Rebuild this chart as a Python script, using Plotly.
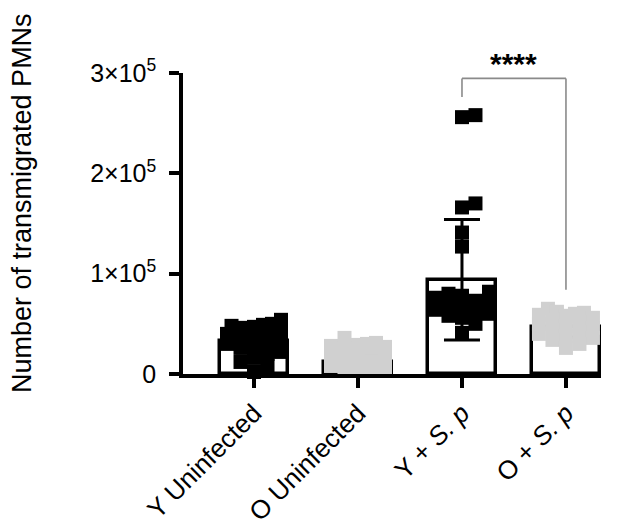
import plotly.graph_objects as go

# ---------------- data ----------------
categories = ["Y Uninfected", "O Uninfected", "Y + <i>S. p</i>", "O + <i>S. p</i>"]
bar_means = [33000, 12000, 94000, 47000]
bar_sd = [15000, 6500, 60000, 10000]

y_uninf = [54000, 50000, 49000, 48000, 47000, 46000, 44000, 42000, 40000, 38000, 36000,
           34000, 32000, 30000, 28000, 26000, 22000, 20000, 16000, 12000, 8000, 2000]
o_uninf = [36000, 31000, 30000, 29000, 28000, 27000, 25000, 22000, 20000, 18000,
           16000, 14000, 12000, 10000, 9000, 8000, 7000, 6000, 5000, 5000]
y_sp = [258000, 256000, 170000, 166000, 141000, 127000, 82000, 80000, 78000, 76000, 73000,
        70000, 68000, 66000, 64000, 62000, 60000, 58000, 56000, 50000, 41000]
o_sp = [65000, 62000, 61000, 60000, 59000, 58000, 56000, 54000, 52000, 50000,
        48000, 46000, 44000, 42000, 40000, 38000, 36000, 34000, 30000, 26000]

groups = [y_uninf, o_uninf, y_sp, o_sp]
group_colors = ["#000000", "#d0d0d0", "#000000", "#d0d0d0"]

ytick_vals = [0, 100000, 200000, 300000]
ytick_text = ["0", "1×10<sup>5</sup>", "2×10<sup>5</sup>", "3×10<sup>5</sup>"]
sig_text = "****"

# ---------------- layout geometry ----------------
W, H = 635, 529
ML, MR, MT, MB = 183, 34, 73, 155
plot_w = W - ML - MR
plot_h = H - MT - MB
x_range = [-0.683, 3.337]
y_range = [0, 300000]
px_per_x = plot_w / (x_range[1] - x_range[0])
px_per_y = plot_h / (y_range[1] - y_range[0])
MS = 14


def swarm(values, max_px=27, step=4.5, min_gap=10.5):
    """Deterministic beeswarm offsets (in data x units)."""
    order = sorted(range(len(values)), key=lambda i: values[i])
    placed = []
    offs = [0.0] * len(values)
    cands = [0.0]
    k = 1
    while k * step <= max_px:
        cands += [k * step, -k * step]
        k += 1
    for i in order:
        yp = values[i] * px_per_y
        best, best_d = None, -1
        for c in cands:
            d = min([max(abs(c - px), abs(yp - py)) for px, py in placed] or [1e9])
            if d >= min_gap:
                best = c
                break
            if d > best_d:
                best_d, best = d, c
        placed.append((best, yp))
        offs[i] = best / px_per_x
    return offs


fig = go.Figure()
fig.add_trace(go.Bar(
    x=list(range(len(categories))), y=bar_means, width=68 / px_per_x,
    marker=dict(color="white", line=dict(color="black", width=3.5)),
    error_y=dict(type="data", array=bar_sd, visible=True, color="black",
                 thickness=3, width=18),
    showlegend=False, hoverinfo="skip",
))

for gi, vals in enumerate(groups):
    offs = swarm(vals)
    fig.add_trace(go.Scatter(
        x=[gi + o for o in offs], y=vals, mode="markers",
        marker=dict(symbol="square", size=MS, color=group_colors[gi], line=dict(width=0)),
        showlegend=False, cliponaxis=False,
    ))

# significance bracket between groups 2 and 3
top = y_range[1] * 0.982
left_bot = max(y_sp) + 18000
right_bot = max(o_sp) + 19000
br = dict(color="#8a8a8a", width=1.6)
fig.add_shape(type="line", x0=2, x1=2, y0=left_bot, y1=top, line=br)
fig.add_shape(type="line", x0=2, x1=3, y0=top, y1=top, line=br)
fig.add_shape(type="line", x0=3, x1=3, y0=right_bot, y1=top, line=br)
fig.add_annotation(x=2.5, y=top, text="<b>" + sig_text + "</b>", showarrow=False,
                   yanchor="bottom", yshift=-4, font=dict(size=30, color="black"))

fig.add_annotation(xref="paper", yref="paper", x=(22 - ML) / plot_w, y=(H - MB - 203) / plot_h,
                   text="Number of transmigrated PMNs", textangle=-90, showarrow=False,
                   xanchor="center", yanchor="middle", font=dict(size=27, color="black"))

fig.update_layout(
    width=W, height=H, margin=dict(l=ML, r=MR, t=MT, b=MB, autoexpand=False),
    paper_bgcolor="white", plot_bgcolor="white",
    font=dict(family="Arial, Liberation Sans, sans-serif", color="black", size=24),
    bargap=0, showlegend=False,
)
fig.update_xaxes(range=x_range, tickvals=list(range(len(categories))), ticktext=categories,
                 tickangle=-45, showline=True, linecolor="black", linewidth=3.5,
                 ticks="outside", ticklen=10, tickwidth=3.5, tickcolor="black",
                 automargin=False,
                 showgrid=False, zeroline=False, tickfont=dict(size=26))
fig.update_yaxes(range=y_range, tickvals=ytick_vals, ticktext=ytick_text,
                 showline=True, linecolor="black", linewidth=3.5,
                 ticks="outside", ticklen=10, tickwidth=3.5, tickcolor="black",
                 ticklabelstandoff=8, automargin=False,
                 showgrid=False, zeroline=False, tickfont=dict(size=25))

fig.write_html("out.html")
